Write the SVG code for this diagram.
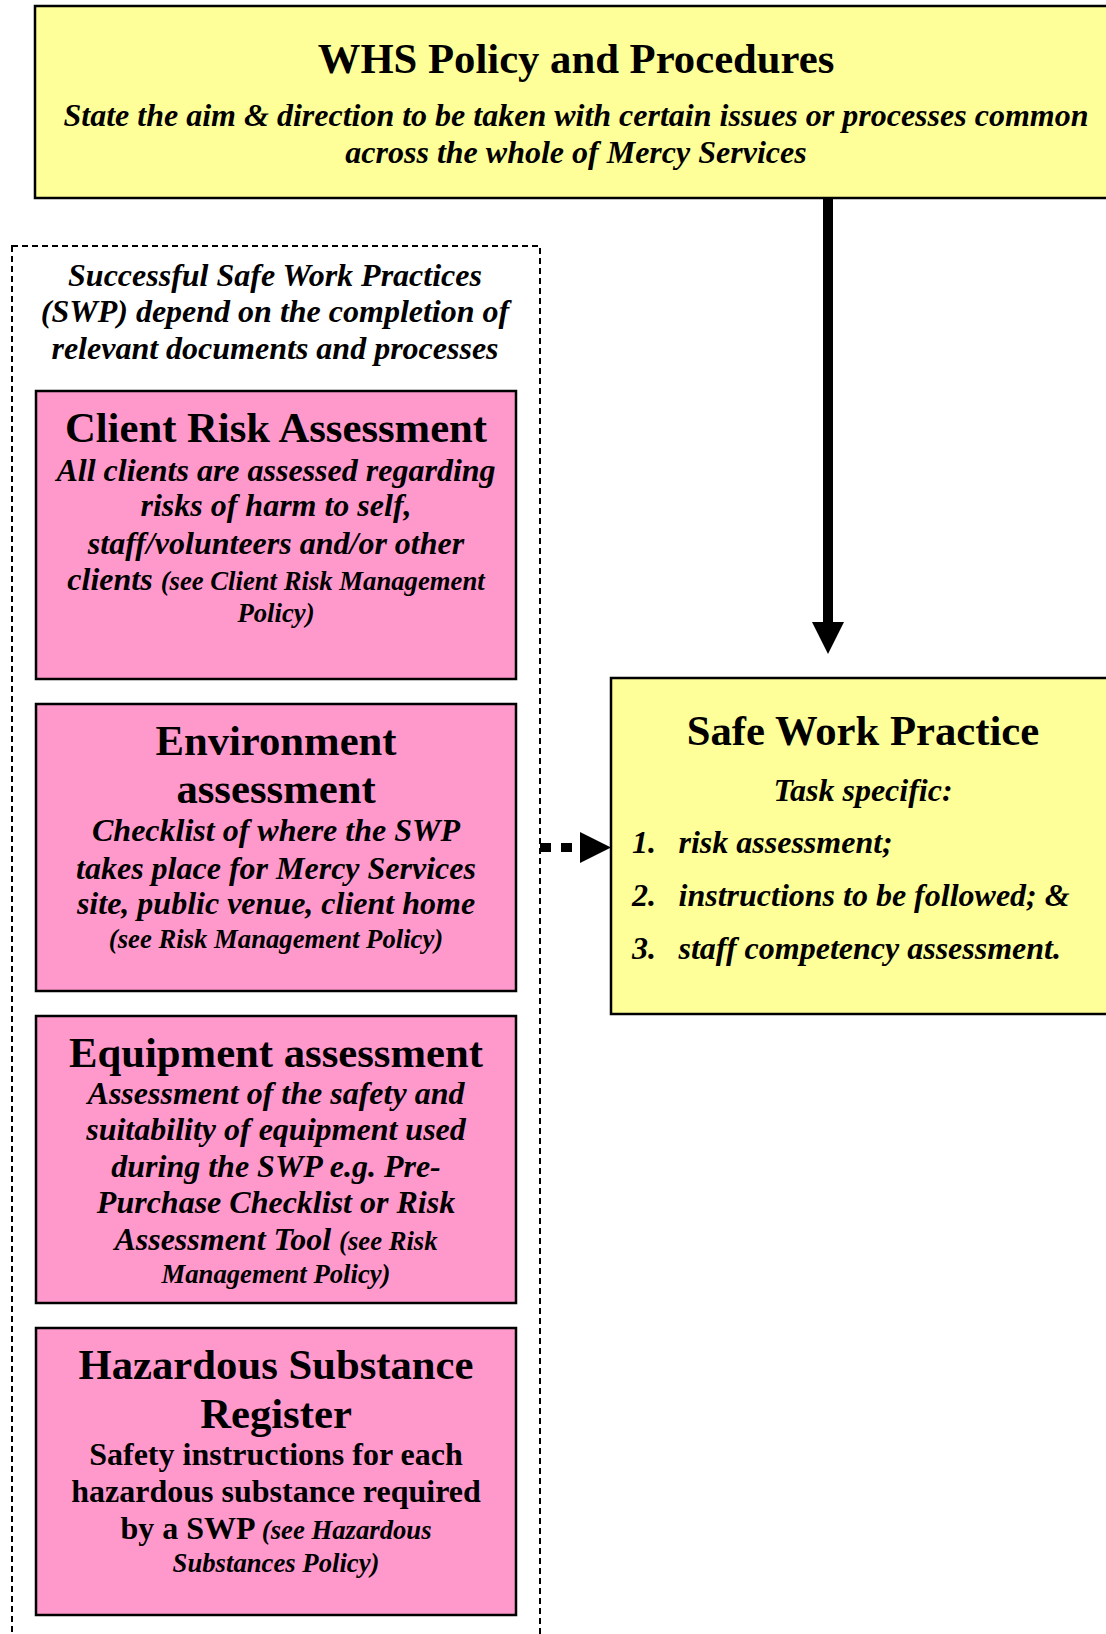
<svg xmlns="http://www.w3.org/2000/svg" width="1106" height="1634" viewBox="0 0 1106 1634">
<style>
.yel{fill:#FFFF99;stroke:#000;stroke-width:2.5}
.pink{fill:#FF99CC;stroke:#000;stroke-width:2.5}
.t{font-family:"Liberation Serif","Times New Roman",serif;fill:#000}
.h{font-weight:bold;font-size:42.7px}
.bi{font-weight:bold;font-style:italic;font-size:32px}
.b{font-weight:bold;font-size:32px}
.sm{font-size:26.7px}
.c{text-anchor:middle}
</style>
<rect width="1106" height="1634" fill="#fff"/>
<g id="connectors">
<rect x="823" y="198" width="10" height="425" fill="#000"/>
<polygon points="812,622 844,622 828,654" fill="#000"/>
<line x1="540" y1="847.5" x2="580" y2="847.5" stroke="#000" stroke-width="9" stroke-dasharray="11 10"/>
<polygon points="580,832 611,847.5 580,863" fill="#000"/>
</g>
<g id="whs">
<rect class="yel" x="35" y="6" width="1090" height="192"/>
<text class="t h c" x="576" y="73">WHS Policy and Procedures</text>
<text class="t bi c" x="576" y="126">State the aim &amp; direction to be taken with certain issues or processes common</text>
<text class="t bi c" x="576" y="163">across the whole of Mercy Services</text>
</g>
<g id="swp-group">
<rect x="12" y="246" width="528" height="1410" fill="none" stroke="#000" stroke-width="2" stroke-dasharray="6 4"/>
<text class="t bi c" x="275" y="286">Successful Safe Work Practices</text>
<text class="t bi c" x="275" y="322">(SWP) depend on the completion of</text>
<text class="t bi c" x="275" y="358.5">relevant documents and processes</text>
</g>
<g id="client-risk">
<rect class="pink" x="36" y="391" width="480" height="288"/>
<text class="t h c" x="276" y="442">Client Risk Assessment</text>
<text class="t bi c" x="276" y="480.5">All clients are assessed regarding</text>
<text class="t bi c" x="276" y="516">risks of harm to self,</text>
<text class="t bi c" x="276" y="553.5">staff/volunteers and/or other</text>
<text class="t bi c" x="276" y="590">clients <tspan class="sm">(see Client Risk Management</tspan></text>
<text class="t bi sm c" x="276" y="622">Policy)</text>
</g>
<g id="environment">
<rect class="pink" x="36" y="704" width="480" height="287"/>
<text class="t h c" x="276" y="755">Environment</text>
<text class="t h c" x="276" y="803">assessment</text>
<text class="t bi c" x="276" y="841">Checklist of where the SWP</text>
<text class="t bi c" x="276" y="878.5">takes place for Mercy Services</text>
<text class="t bi c" x="276" y="914">site, public venue, client home</text>
<text class="t bi sm c" x="276" y="947.5">(see Risk Management Policy)</text>
</g>
<g id="equipment">
<rect class="pink" x="36" y="1016" width="480" height="287"/>
<text class="t h c" x="276" y="1066.5">Equipment assessment</text>
<text class="t bi c" x="276" y="1104">Assessment of the safety and</text>
<text class="t bi c" x="276" y="1140">suitability of equipment used</text>
<text class="t bi c" x="276" y="1177">during the SWP e.g. Pre-</text>
<text class="t bi c" x="276" y="1213">Purchase Checklist or Risk</text>
<text class="t bi c" x="276" y="1250">Assessment Tool <tspan class="sm">(see Risk</tspan></text>
<text class="t bi sm c" x="276" y="1283">Management Policy)</text>
</g>
<g id="hazardous">
<rect class="pink" x="36" y="1328" width="480" height="287"/>
<text class="t h c" x="276" y="1379">Hazardous Substance</text>
<text class="t h c" x="276" y="1428">Register</text>
<text class="t b c" x="276" y="1464.5">Safety instructions for each</text>
<text class="t b c" x="276" y="1502">hazardous substance required</text>
<text class="t b c" x="276" y="1538.5">by a SWP <tspan class="sm" font-style="italic">(see Hazardous</tspan></text>
<text class="t bi sm c" x="276" y="1572">Substances Policy)</text>
</g>
<g id="safe-work-practice">
<rect class="yel" x="611" y="678" width="520" height="336"/>
<text class="t h c" x="863" y="745">Safe Work Practice</text>
<text class="t bi c" x="863" y="800.5">Task specific:</text>
<text class="t bi" x="632" y="852.5">1.</text>
<text class="t bi" x="678.5" y="852.5">risk assessment;</text>
<text class="t bi" x="632" y="906">2.</text>
<text class="t bi" x="678.5" y="906">instructions to be followed; &amp;</text>
<text class="t bi" x="632" y="959">3.</text>
<text class="t bi" x="678.5" y="959">staff competency assessment.</text>
</g>
</svg>
